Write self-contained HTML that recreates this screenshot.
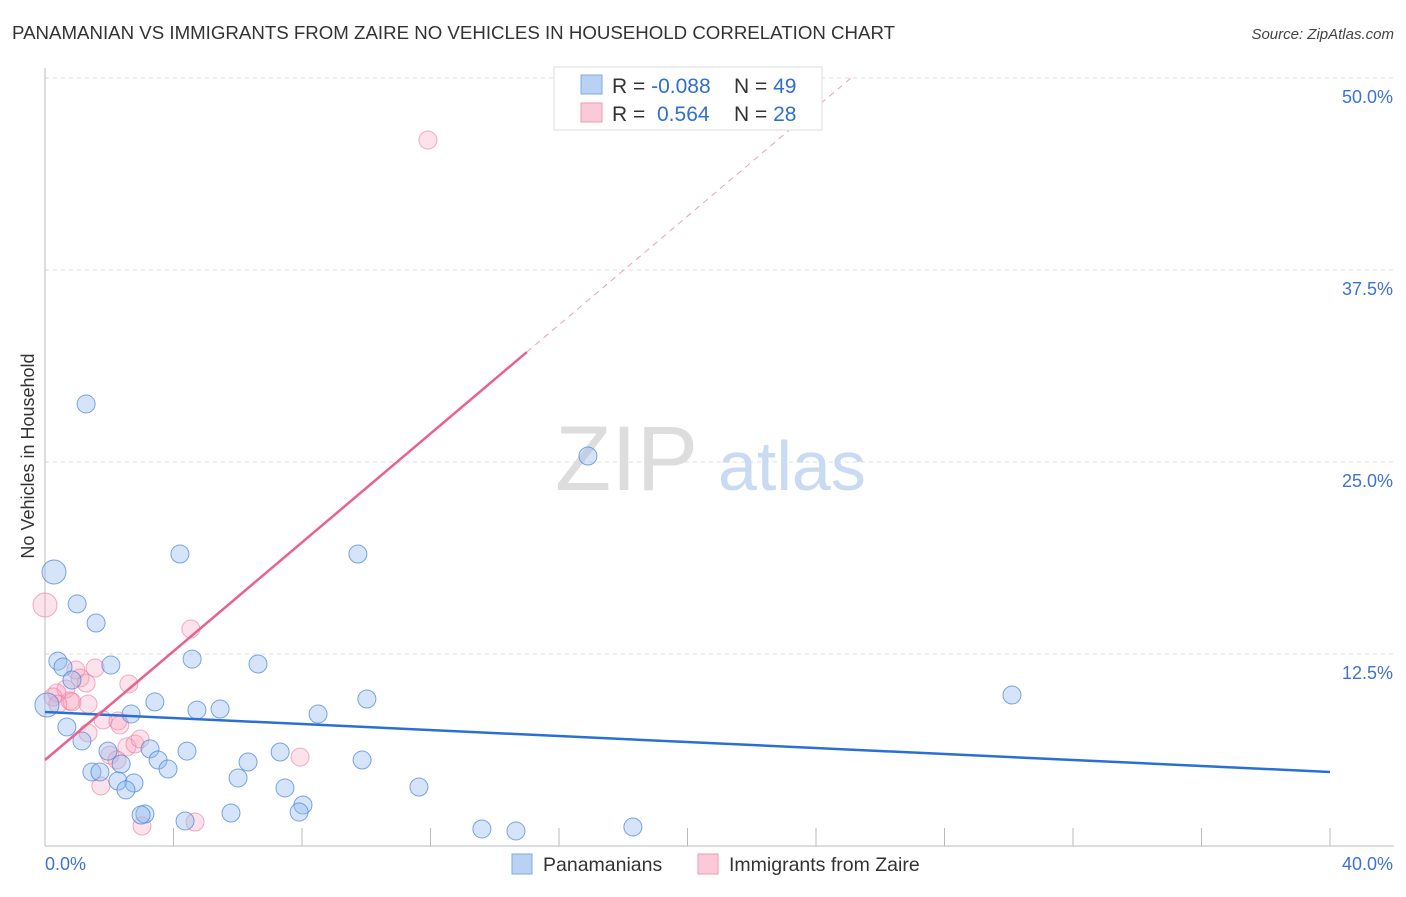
<!DOCTYPE html>
<html><head><meta charset="utf-8"><style>
body{margin:0;background:#fff;font-family:"Liberation Sans",sans-serif;}
svg text{font-family:"Liberation Sans",sans-serif;}
</style></head><body>
<svg id="chart" width="1406" height="892" viewBox="0 0 1406 892" xmlns="http://www.w3.org/2000/svg">
<text x="12" y="39" font-size="18" fill="#333" textLength="883" lengthAdjust="spacingAndGlyphs">PANAMANIAN VS IMMIGRANTS FROM ZAIRE NO VEHICLES IN HOUSEHOLD CORRELATION CHART</text>
<text x="1394" y="39" font-size="15" fill="#444" text-anchor="end" font-style="italic">Source: ZipAtlas.com</text>
<g id="grid"></g>
<g>
<text x="555" y="490" font-size="92" fill="#ddd" font-family="Liberation Serif, serif">ZIP</text>
<text x="718" y="490" font-size="70" fill="#c9daf3">atlas</text>
</g>
<text transform="translate(34,456) rotate(-90)" font-size="18" fill="#333" text-anchor="middle">No Vehicles in Household</text>
<g id="points"></g>
<g id="trends"></g>
<g>
<rect x="554" y="67" width="268" height="63" fill="#fff" stroke="#ddd"/>
<rect x="581" y="75" width="21" height="19" fill="#b9d2f3" stroke="#7eaae6"/>
<rect x="581" y="103" width="21" height="19" fill="#fbcad8" stroke="#f09ab4"/>
<text x="612" y="93" font-size="21" fill="#333">R = <tspan fill="#2f6fd0">-0.088</tspan><tspan x="734">N = </tspan><tspan fill="#2f6fd0">49</tspan></text>
<text x="612" y="121" font-size="21" fill="#333">R = <tspan x="657" fill="#2f6fd0">0.564</tspan><tspan x="734">N = </tspan><tspan fill="#2f6fd0">28</tspan></text>
</g>
<g>
<rect x="512" y="854" width="20" height="20" fill="#b9d2f3" stroke="#7eaae6"/>
<text x="543" y="871" font-size="19.5" fill="#333">Panamanians</text>
<rect x="698" y="854" width="20" height="20" fill="#fbcad8" stroke="#f09ab4"/>
<text x="729" y="871" font-size="19.5" fill="#333">Immigrants from Zaire</text>
</g>
</svg>
<script>
const xTicks=[0,4,8,12,16,20,24,28,32,36,40];
const yTicks=[12.5,25,37.5,50];
const yTickLabels=["12.5%","25.0%","37.5%","50.0%"];
const blueX=[4.20,9.74,0.28,1.00,1.59,0.40,0.56,2.05,0.84,1.28,16.90,4.58,6.63,3.42,4.73,5.45,2.68,8.50,10.02,30.10,0.68,1.15,0.06,3.27,1.96,4.42,7.32,3.52,3.83,2.37,1.46,1.71,6.32,9.87,6.01,2.27,2.77,2.52,7.47,11.64,3.11,2.99,8.03,7.91,5.79,4.36,13.60,14.66,18.30];
const blueY=[19.01,19.01,17.84,15.76,14.52,12.04,11.65,11.78,10.81,28.78,25.39,12.17,11.85,9.38,8.85,8.92,8.59,8.59,9.57,9.83,7.75,6.84,9.18,6.32,6.18,6.18,6.12,5.60,5.01,5.34,4.82,4.82,5.47,5.60,4.43,4.23,4.10,3.65,3.78,3.84,2.08,2.02,2.67,2.21,2.15,1.63,1.11,0.98,1.24];
const blueBig=[0,0,1,0,0,0,0,0,0,0,0,0,0,0,0,0,0,0,0,0,0,0,1,0,0,0,0,0,0,0,0,0,0,0,0,0,0,0,0,0,0,0,0,0,0,0,0,0,0];
const pinkX=[0.0,11.92,4.54,2.61,0.96,1.56,1.09,1.28,0.65,0.37,0.78,0.25,1.34,0.84,0.40,1.34,1.81,2.27,2.33,2.02,2.55,2.80,2.96,7.94,1.74,3.02,4.67,2.24];
const pinkY=[15.69,45.96,14.13,10.55,11.46,11.59,10.94,10.61,10.22,9.96,9.44,9.70,9.24,9.38,9.24,7.36,8.20,8.14,7.88,5.92,6.45,6.64,6.97,5.79,3.91,1.30,1.56,5.60];
const pinkBig=[1,0,0,0,0,0,0,0,0,0,0,0,0,0,0,0,0,0,0,0,0,0,0,0,0,0,0,0];
const blueTrend=[[0,8.72],[40,4.82]];
const pinkTrendSolid=[[0,5.60],[15.0,32.16]];
const pinkTrendDash=[[15.0,32.16],[25.2,50.2]];

const NS="http://www.w3.org/2000/svg";
const X0=45,X1=1330,Y0=846,Y1=78;
const sx=v=>X0+(v/40)*(X1-X0);
const sy=v=>Y0-(v/50)*(Y0-Y1);
function mk(tag,attrs,parent){const e=document.createElementNS(NS,tag);for(const k in attrs)e.setAttribute(k,attrs[k]);parent.appendChild(e);return e;}
const grid=document.getElementById('grid');
yTicks.forEach((t,i)=>{
  const l=mk('line',{x1:X0,x2:1394,y1:sy(t),y2:sy(t),stroke:'#ddd','stroke-dasharray':'4,4'},grid);
  
  
  const tx=mk('text',{x:1393,y:sy(t)+25,'font-size':18,fill:'#3d72d6','text-anchor':'end'},grid);
  tx.textContent=yTickLabels[i];
  
  
});
const ax=mk('line',{x1:X0,x2:X0,y1:68,y2:Y0,stroke:'#bbb'},grid);


const bx=mk('line',{x1:X0,x2:1394,y1:Y0,y2:Y0,stroke:'#bbb'},grid);


xTicks.forEach(t=>{
  const l=mk('line',{x1:sx(t),x2:sx(t),y1:Y0-18,y2:Y0,stroke:'#bbb'},grid);
  
  
});
const xl0=mk('text',{x:45,y:870,'font-size':18,fill:'#3d72d6'},grid);xl0.textContent=xTicks[0].toFixed(1)+'%';


const xl1=mk('text',{x:1393,y:870,'font-size':18,fill:'#3d72d6','text-anchor':'end'},grid);xl1.textContent=xTicks[xTicks.length-1].toFixed(1)+'%';



const pts=document.getElementById('points');
pinkX.forEach((v,i)=>{
  const c=mk('circle',{cx:sx(v),cy:sy(pinkY[i]),r:pinkBig[i]?12:9,fill:'rgba(246,160,186,0.3)',stroke:'rgba(236,120,155,0.6)','stroke-width':1},pts);
  
  
});
blueX.forEach((v,i)=>{
  const c=mk('circle',{cx:sx(v),cy:sy(blueY[i]),r:blueBig[i]?12:9,fill:'rgba(150,188,238,0.4)',stroke:'rgba(70,130,215,0.7)','stroke-width':1},pts);
  
  
});
const tr=document.getElementById('trends');
const b=mk('line',{x1:sx(blueTrend[0][0]),y1:sy(blueTrend[0][1]),x2:sx(blueTrend[1][0]),y2:sy(blueTrend[1][1]),stroke:'#2a6fd6','stroke-width':2.5},tr);


const p=mk('line',{x1:sx(pinkTrendSolid[0][0]),y1:sy(pinkTrendSolid[0][1]),x2:sx(pinkTrendSolid[1][0]),y2:sy(pinkTrendSolid[1][1]),stroke:'#e8628c','stroke-width':2.5},tr);


const pd=mk('line',{x1:sx(pinkTrendDash[0][0]),y1:sy(pinkTrendDash[0][1]),x2:sx(pinkTrendDash[1][0]),y2:sy(pinkTrendDash[1][1]),stroke:'#eaa0b6','stroke-width':1,'stroke-dasharray':'6,5'},tr);


</script>
</body></html>
